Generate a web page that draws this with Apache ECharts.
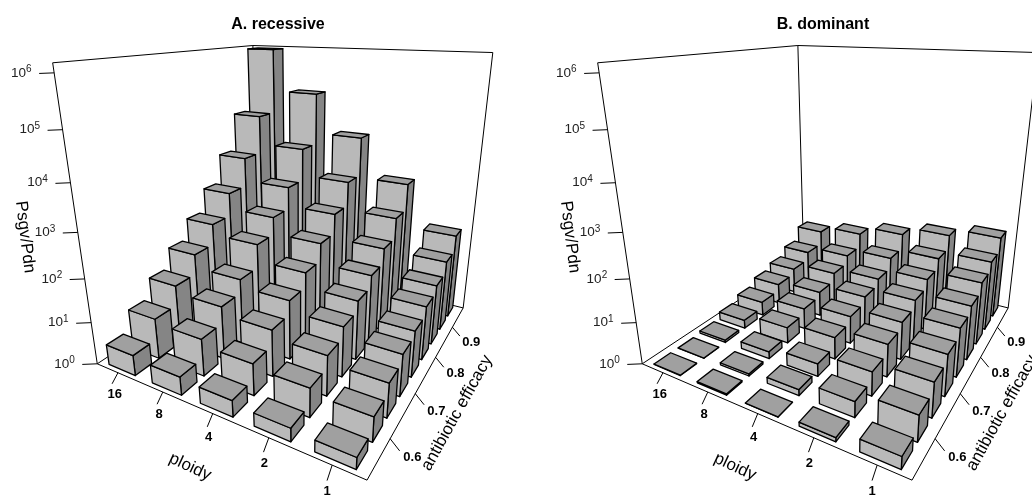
<!DOCTYPE html>
<html><head><meta charset="utf-8"><style>html,body{margin:0;background:#fff}#c{width:1032px;height:498px}</style>
<script src="https://cdn.jsdelivr.net/npm/echarts@6/dist/echarts.min.js"></script></head>
<body><div id="c"></div><script>
// log10(Psgv/Pdn), one array per ploidy, ordered by antibiotic efficacy
const ploidyLabels=['16','8','4','2','1'];
const efficacyRows=[0.55,0.60,0.65,0.70,0.75,0.80,0.85,0.90,0.95];
const efficacyTicks=[0.6,0.7,0.8,0.9];
const exponentTicks=[0,1,2,3,4,5,6];
const recessive16=[0.48,0.96,1.42,1.89,2.38,2.94,3.64,4.56,6.12];
const recessive8=[0.42,0.87,1.26,1.58,2.14,2.56,3.09,3.87,5.11];
const recessive4=[0.37,0.73,1.09,1.41,1.75,2.17,2.64,3.22,4.15];
const recessive2=[0.29,0.65,0.92,1.17,1.41,1.69,2.05,2.54,3.17];
const recessive1=[0.25,0.54,0.77,0.96,1.08,1.28,1.45,1.73,2.11];
const dominant16=[0.01,0.005,0.06,0.21,0.35,0.52,0.66,0.87,1.23];
const dominant8=[0.03,0.05,0.17,0.39,0.52,0.63,0.84,1.05,1.41];
const dominant4=[0.005,0.14,0.30,0.53,0.68,0.84,0.99,1.26,1.65];
const dominant2=[0.09,0.36,0.56,0.77,0.91,1.09,1.29,1.53,1.87];
const dominant1=[0.27,0.58,0.79,0.96,1.15,1.30,1.52,1.73,2.06];
const panels=[
 {title:'A. recessive',dx:0,cols:[recessive16,recessive8,recessive4,recessive2,recessive1]},
 {title:'B. dominant',dx:545,cols:[dominant16,dominant8,dominant4,dominant2,dominant1]}
];
// axis box calibration
const zTop=6.17, effMin=0.525, effMax=0.975, barFracX=0.62, barFracY=0.68;
const box=[
 [0,0,0,97,363],[1,0,0,367,481],[1,1,0,463,307],[0,1,0,259,258],
 [0,0,1,53,63],[1,1,1,493,53],[0,1,1,252.5,45]
];
function solve(A,b){const n=b.length;const M=A.map((r,i)=>[...r,b[i]]);
 for(let i=0;i<n;i++){let p=i;for(let r=i+1;r<n;r++)if(Math.abs(M[r][i])>Math.abs(M[p][i]))p=r;[M[i],M[p]]=[M[p],M[i]];
  for(let r=0;r<n;r++)if(r!==i){const f=M[r][i]/M[i][i];for(let c=i;c<=n;c++)M[r][c]-=f*M[i][c];}}
 return M.map((r,i)=>r[n]/r[i]);}
const rows=[],rhs=[];
box.forEach(([x,y,z,u,v])=>{
 rows.push([x,y,z,1,0,0,0,0,-u*x,-u*y,-u*z]);rhs.push(u);
 rows.push([0,0,0,0,x,y,z,1,-v*x,-v*y,-v*z]);rhs.push(v);});
const N=11,ATA=Array.from({length:N},()=>Array(N).fill(0)),ATb=Array(N).fill(0);
rows.forEach((r,i)=>{for(let a=0;a<N;a++){ATb[a]+=r[a]*rhs[i];for(let c=0;c<N;c++)ATA[a][c]+=r[a]*r[c];}});
const P=solve(ATA,ATb);
function proj(x,y,z){const w=P[8]*x+P[9]*y+P[10]*z+1;
 return [(P[0]*x+P[1]*y+P[2]*z+P[3])/w,(P[4]*x+P[5]*y+P[6]*z+P[7])/w];}
const effY=e=>(e-effMin)/(effMax-effMin);
const FONT='"Liberation Sans",Arial,sans-serif';
const lineStyle={stroke:'#000',lineWidth:1,fill:null};
function seg(api,a,b){const p=api.coord(a),q=api.coord(b);
 return {type:'line',shape:{x1:p[0],y1:p[1],x2:q[0],y2:q[1]},style:lineStyle,silent:true};}
function txt(api,pt,text,o){const p=api.coord(pt);
 return {type:'text',x:p[0],y:p[1],rotation:o.rot||0,silent:true,style:Object.assign({text,fill:'#000',align:'center',verticalAlign:'middle',font:o.font},o.extra||{})};}
const series=[];
panels.forEach(pn=>{
 const S=(x,y,z)=>{const q=proj(x,y,z);return [q[0]+pn.dx,q[1]];};
 const edges=[[[0,0,0],[0,0,1]],[[0,0,1],[0,1,1]],[[0,1,1],[1,1,1]],[[1,1,1],[1,1,0]],[[0,1,1],[0,1,0]],
  [[0,0,0],[1,0,0]],[[1,0,0],[1,1,0]],[[1,1,0],[0,1,0]],[[0,1,0],[0,0,0]]];
 series.push({type:'custom',coordinateSystem:'cartesian2d',clip:false,silent:true,data:edges.map((e,i)=>[i]),
  renderItem:(p,api)=>{const e=edges[api.value(0)];return seg(api,S(...e[0]),S(...e[1]));}});
 const bars=[];
 for(let r=efficacyRows.length-1;r>=0;r--)for(let c=0;c<pn.cols.length;c++)bars.push([c,efficacyRows[r],pn.cols[c][r]]);
 const nc=pn.cols.length,nr=efficacyRows.length;
 series.push({type:'custom',coordinateSystem:'cartesian2d',clip:false,silent:true,data:bars,
  renderItem:(p,api)=>{
   const x=(api.value(0)+0.5)/nc,y=effY(api.value(1)),z=api.value(2)/zTop;
   const hx=barFracX/nc/2,hy=barFracY/nr/2;
   const pt=(a,b,c)=>api.coord(S(a,b,c));
   const poly=(pts,fill)=>({type:'polygon',shape:{points:pts},style:{fill,stroke:'#000',lineWidth:1.3,lineJoin:'round'},silent:true});
   const x0=x-hx,x1=x+hx,y0=y-hy,y1=y+hy;
   return {type:'group',children:[
    poly([pt(x1,y0,0),pt(x1,y1,0),pt(x1,y1,z),pt(x1,y0,z)],'#858585'),
    poly([pt(x0,y0,0),pt(x1,y0,0),pt(x1,y0,z),pt(x0,y0,z)],'#b9b9b9'),
    poly([pt(x0,y0,z),pt(x1,y0,z),pt(x1,y1,z),pt(x0,y1,z)],'#a0a0a0')]};
  }});
 series.push({type:'custom',coordinateSystem:'cartesian2d',clip:false,silent:true,data:exponentTicks.map(e=>[e]),
  renderItem:(p,api)=>{const e=api.value(0),a=S(0,0,e/zTop);const t=[a[0]-15,a[1]+0.6];
   return {type:'group',children:[seg(api,a,t),
    txt(api,[t[0]-7.5,a[1]],'{a|10}{b|'+e+'}',{font:'13px '+FONT,extra:{align:'right',rich:{a:{font:'13.5px '+FONT,fill:'#222'},b:{font:'10px '+FONT,fill:'#222',padding:[0,0,7,0]}}}})]};}});
 series.push({type:'custom',coordinateSystem:'cartesian2d',clip:false,silent:true,data:ploidyLabels.map((l,i)=>[i]),
  renderItem:(p,api)=>{const i=api.value(0),x=(i+0.5)/nc,a=S(x,0,0);
   const t=[a[0]-6+x,a[1]+10.5+5.5*x],l=[a[0]-3-2.2*x,a[1]+20.5+7*x];
   return {type:'group',children:[seg(api,a,t),txt(api,l,ploidyLabels[i],{font:'bold 13px '+FONT})]};}});
 series.push({type:'custom',coordinateSystem:'cartesian2d',clip:false,silent:true,data:efficacyTicks.map(e=>[e]),
  renderItem:(p,api)=>{const e=api.value(0),y=effY(e),a=S(1,y,0);
   const t=[a[0]+10-3*y,a[1]+13-5*y],l=[a[0]+23-5*y,a[1]+20-6*y];
   return {type:'group',children:[seg(api,a,t),txt(api,l,e.toFixed(1),{font:'bold 13px '+FONT})]};}});
 const names=[['Psgv/Pdn',[25+pn.dx,237],-83*Math.PI/180],['ploidy',[190+pn.dx,467],-25*Math.PI/180],['antibiotic efficacy',[457+pn.dx,413],61*Math.PI/180]];
 series.push({type:'custom',coordinateSystem:'cartesian2d',clip:false,silent:true,data:names.map((n,i)=>[i]),
  renderItem:(p,api)=>{const n=names[api.value(0)];return txt(api,n[1],n[0],{font:'17px '+FONT,rot:n[2]});}});
});
const chart=echarts.init(document.getElementById('c'),null,{renderer:'canvas'});
chart.setOption({animation:false,backgroundColor:'#fff',
 title:panels.map(pn=>({text:pn.title,left:273+pn.dx,top:12,textAlign:'center',textStyle:{fontFamily:FONT,fontSize:16,fontWeight:'bold',color:'#000'}})),
 grid:{left:0,right:0,top:0,bottom:0},
 xAxis:{type:'value',min:0,max:1032,show:false},
 yAxis:{type:'value',min:0,max:498,inverse:true,show:false},
 series});
</script></body></html>
